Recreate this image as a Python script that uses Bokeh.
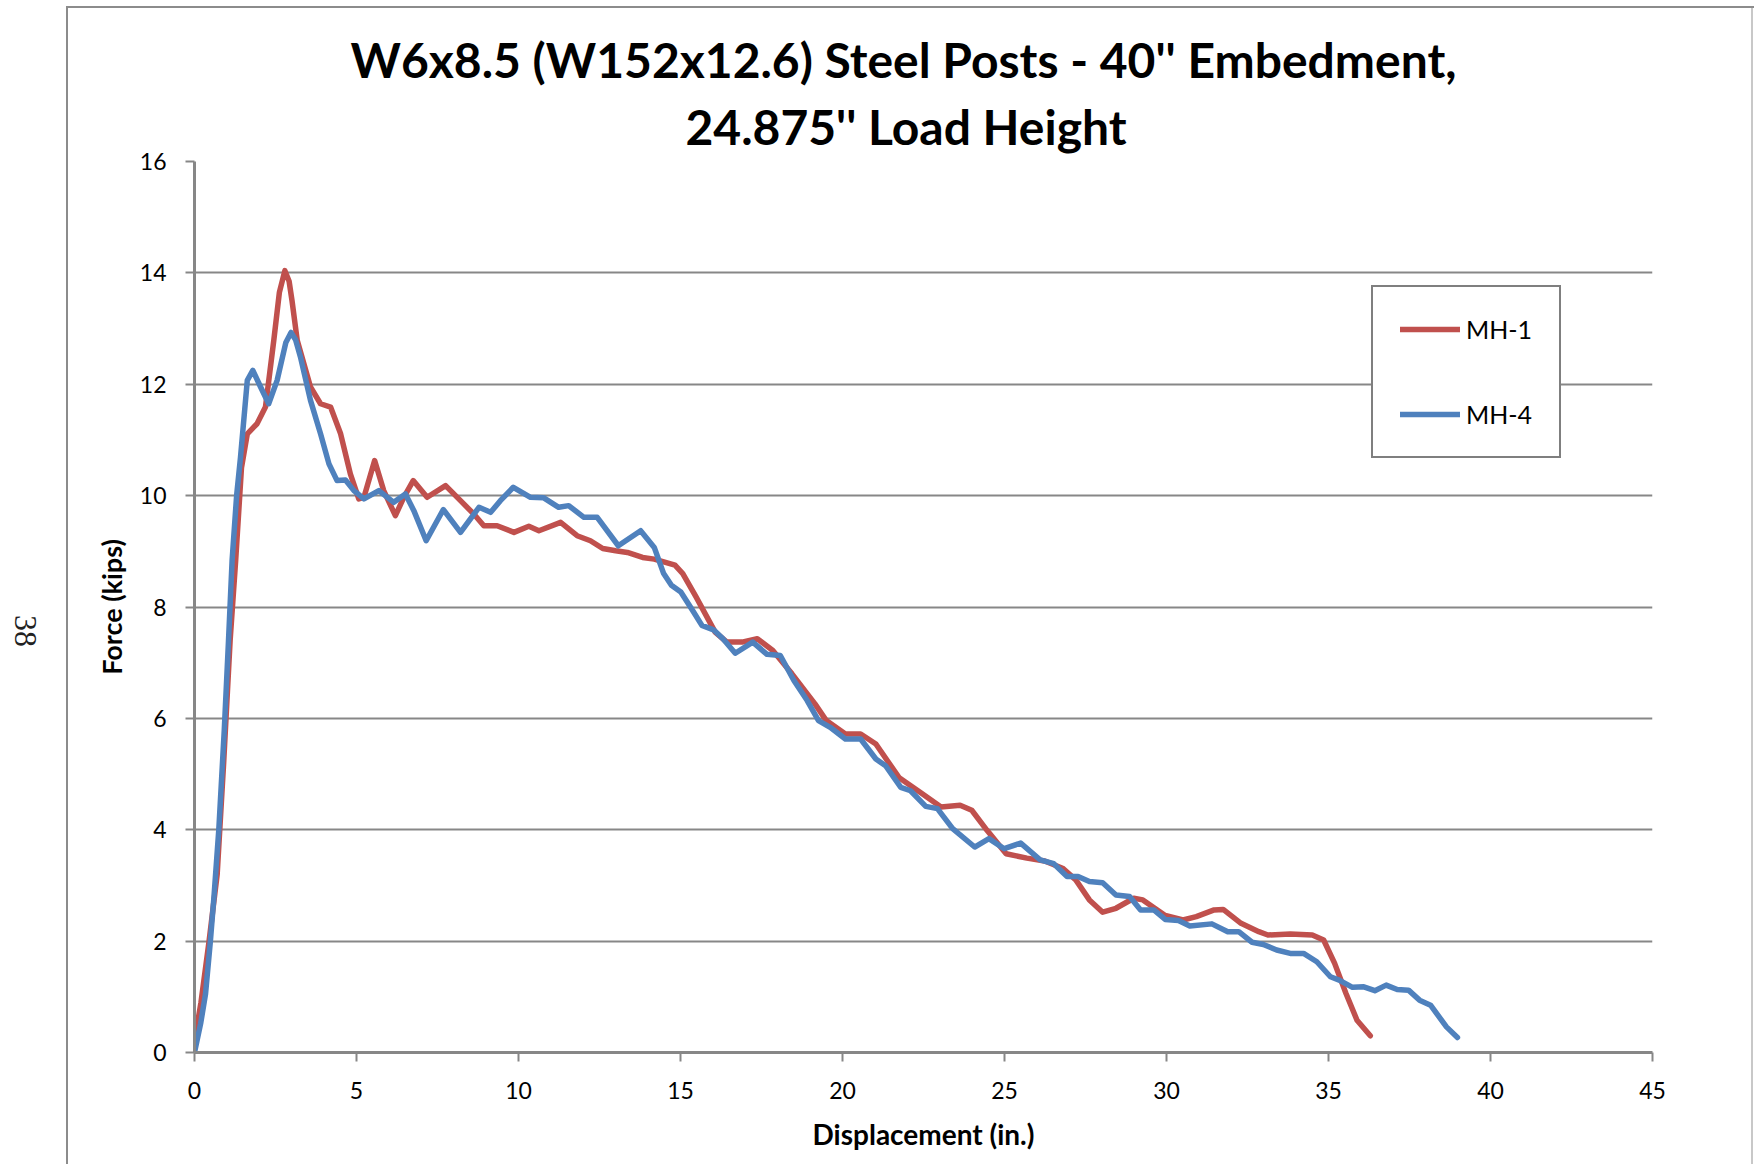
import math
from bokeh.plotting import figure
from bokeh.models import (Range1d, FixedTicker, Legend, LegendItem, Title, LinearAxis)
from bokeh.embed import file_html
from bokeh.resources import INLINE

# ---------------- data ----------------
title_line1 = "W6x8.5 (W152x12.6) Steel Posts - 40'' Embedment,"
title_line2 = "24.875'' Load Height"
x_label = "Displacement (in.)"
y_label = "Force (kips)"
page_number = "38"

x_ticks = [0, 5, 10, 15, 20, 25, 30, 35, 40, 45]
y_ticks = [0, 2, 4, 6, 8, 10, 12, 14, 16]

series_names = ["MH-1", "MH-4"]

mh1_x = [0, 0.2, 0.45, 0.7, 0.9, 1.1, 1.27, 1.45, 1.63, 1.93, 2.19, 2.45, 2.62, 2.79, 2.92, 3.01, 3.17,
         3.58, 3.89, 4.20, 4.51, 4.81, 5.07, 5.23, 5.56, 5.84, 6.20, 6.46, 6.75, 7.18, 7.75,
         8.21, 8.62, 8.93, 9.34, 9.86, 10.32, 10.63, 11.30, 11.81, 12.22, 12.6, 13.0, 13.36,
         13.83, 14.19, 14.83, 15.07, 15.48, 16.07, 16.43, 16.90, 17.37, 17.85, 18.44, 19.15,
         19.50, 20.09, 20.56, 21.03, 21.74, 22.45, 23.04, 23.63, 23.99, 24.46, 25.05, 25.69,
         26.24, 26.79, 27.20, 27.62, 28.03, 28.44, 28.99, 29.27, 29.96, 30.51, 30.92, 31.47,
         31.75, 32.30, 32.85, 33.13, 33.82, 34.50, 34.85, 35.19, 35.54, 35.88, 36.29]
mh1_y = [0.2, 0.9, 2.0, 3.2, 5.2, 7.4, 8.83, 10.5, 11.11, 11.29, 11.59, 12.8, 13.65, 14.04, 13.85, 13.5, 12.79,
         11.95, 11.65, 11.59, 11.11, 10.39, 9.94, 9.97, 10.63, 10.09, 9.64, 9.97, 10.27, 9.97, 10.18,
         9.91, 9.67, 9.46, 9.46, 9.34, 9.45, 9.37, 9.52, 9.28, 9.19, 9.05, 9.01, 8.98,
         8.89, 8.86, 8.75, 8.60, 8.18, 7.55, 7.37, 7.37, 7.43, 7.22, 6.80, 6.26,
         5.96, 5.72, 5.72, 5.54, 4.94, 4.65, 4.41, 4.44, 4.35, 3.99, 3.57, 3.49,
         3.44, 3.31, 3.10, 2.74, 2.52, 2.59, 2.77, 2.74, 2.46, 2.38, 2.44, 2.56,
         2.57, 2.32, 2.17, 2.11, 2.13, 2.11, 2.02, 1.60, 1.06, 0.58, 0.30]

mh4_x = [0, 0.19, 0.34, 0.49, 0.6, 0.75, 0.92, 1.05, 1.16, 1.3, 1.42, 1.63, 1.80, 2.04, 2.29,
         2.55, 2.82, 2.98, 3.12, 3.27, 3.58, 3.89, 4.15, 4.40, 4.66, 4.92, 5.23, 5.69, 6.15, 6.51, 6.77,
         7.15, 7.68, 8.21, 8.78, 9.14, 9.44, 9.84, 10.37, 10.78, 11.24, 11.55, 12.02, 12.43,
         13.08, 13.77, 14.19, 14.48, 14.72, 15.01, 15.37, 15.66, 16.02, 16.31, 16.69, 17.23,
         17.67, 18.08, 18.50, 18.91, 19.26, 19.62, 20.09, 20.56, 21.03, 21.33, 21.80, 22.10,
         22.57, 22.93, 23.40, 24.08, 24.52, 24.99, 25.50, 26.10, 26.52, 26.93, 27.27, 27.62,
         28.03, 28.44, 28.86, 29.20, 29.61, 29.96, 30.37, 30.72, 31.40, 31.89, 32.23, 32.64,
         32.99, 33.40, 33.82, 34.23, 34.64, 35.06, 35.33, 35.74, 36.09, 36.43, 36.78, 37.12,
         37.47, 37.81, 38.15, 38.64, 38.98]
mh4_y = [0, 0.52, 1.05, 2.0, 2.79, 4.0, 5.8, 7.4, 8.83, 10.0, 10.69, 12.07, 12.25, 11.95, 11.65,
         12.07, 12.75, 12.93, 12.8, 12.49, 11.71, 11.11, 10.57, 10.27, 10.28, 10.09, 9.94, 10.09, 9.88, 10.03, 9.73,
         9.19, 9.75, 9.34, 9.79, 9.70, 9.91, 10.15, 9.97, 9.96, 9.79, 9.82, 9.61, 9.61,
         9.10, 9.37, 9.07, 8.60, 8.39, 8.27, 7.94, 7.67, 7.59, 7.43, 7.17, 7.37,
         7.15, 7.13, 6.68, 6.32, 5.96, 5.84, 5.63, 5.63, 5.27, 5.15, 4.76, 4.70,
         4.42, 4.38, 4.02, 3.69, 3.84, 3.66, 3.76, 3.46, 3.39, 3.16, 3.16, 3.07,
         3.05, 2.83, 2.80, 2.56, 2.56, 2.39, 2.37, 2.27, 2.31, 2.17, 2.17, 1.98,
         1.94, 1.84, 1.78, 1.78, 1.63, 1.36, 1.30, 1.17, 1.18, 1.11, 1.21, 1.13,
         1.12, 0.94, 0.85, 0.46, 0.27]

# ---------------- styling ----------------
RED = "#C0504D"
BLUE = "#4F81BD"
GRAY = "#878787"
FONT = "Lato"

p = figure(width=1754, height=1164,
           x_range=Range1d(0, 45), y_range=Range1d(0, 16),
           output_backend="svg", toolbar_location=None,
           min_border_left=194, min_border_right=102,
           min_border_top=161, min_border_bottom=112)
p.outline_line_color = None
p.background_fill_color = "white"
p.border_fill_color = None
# outer frame of the embedded chart, drawn behind the transparent border area
p.styles = {
    "background-color": "white",
    "background-image": ("linear-gradient(#8c8c8c, #8c8c8c), linear-gradient(#8c8c8c, #8c8c8c), "
                         "linear-gradient(#c8c8c8, #c8c8c8)"),
    "background-size": "2px 1200px, 1800px 2px, 2px 1200px",
    "background-position": "66px 6px, 66px 6px, 1751px 6px",
    "background-repeat": "no-repeat",
}

p.xgrid.visible = False
p.ygrid.ticker = FixedTicker(ticks=y_ticks)
p.ygrid.grid_line_color = GRAY
p.ygrid.grid_line_width = 2

for ax in (p.xaxis[0], p.yaxis[0]):
    ax.axis_line_color = GRAY
    ax.axis_line_width = 3
    ax.major_tick_line_color = GRAY
    ax.major_tick_line_width = 2
    ax.major_tick_out = 9
    ax.major_tick_in = 0
    ax.minor_tick_line_color = None
    ax.major_label_text_font = FONT
    ax.major_label_text_font_size = "23px"
    ax.major_label_text_color = "black"
    ax.axis_label_text_font = FONT
    ax.axis_label_text_font_style = "bold"
    ax.axis_label_text_font_size = "27px"
    ax.axis_label_text_color = "black"

p.xaxis.ticker = FixedTicker(ticks=x_ticks)
p.yaxis.ticker = FixedTicker(ticks=y_ticks)
p.xaxis.axis_label = x_label
p.yaxis.axis_label = y_label
p.xaxis.axis_label_text_font_size = "28px"
p.xaxis.major_label_standoff = 20
p.yaxis.major_label_standoff = 19
p.xaxis.axis_label_standoff = 15
p.yaxis.axis_label_standoff = 9

# page number of the source document, as a lone rotated label on a bare extra axis
p.extra_y_ranges = {"page": Range1d(0, 1000)}
page_axis = LinearAxis(y_range_name="page", ticker=FixedTicker(ticks=[455]),
                       major_label_overrides={455: page_number},
                       major_label_orientation=-math.pi / 2,
                       axis_line_color=None, major_tick_line_color=None,
                       minor_tick_line_color=None, major_tick_out=0, major_tick_in=0,
                       major_label_standoff=66,
                       major_label_text_font="Liberation Serif",
                       major_label_text_font_size="32px",
                       major_label_text_color="#222222")
p.add_layout(page_axis, "left")

r1 = p.line(mh1_x, mh1_y, line_color=RED, line_width=5.5, line_cap="round", line_join="round")
r4 = p.line(mh4_x, mh4_y, line_color=BLUE, line_width=5.5, line_cap="round", line_join="round")

legend = Legend(items=[LegendItem(label=series_names[0], renderers=[r1]),
                       LegendItem(label=series_names[1], renderers=[r4])],
                location=(1177, 594),
                border_line_color="black", border_line_width=2,
                background_fill_color="white", background_fill_alpha=1,
                padding=27, spacing=55, glyph_width=60, glyph_height=30,
                label_height=30, label_width=66, label_standoff=6,
                label_text_font=FONT, label_text_font_size="25px",
                label_text_color="black", margin=0)
p.add_layout(legend)

# two-line chart title: the later-added Title sits further from the frame
p.add_layout(Title(text=title_line2, align="left", offset=491, text_font=FONT,
                   text_font_style="bold", text_font_size="48px",
                   text_color="black", standoff=14), "above")
p.add_layout(Title(text=title_line1, align="left", offset=156, text_font=FONT,
                   text_font_style="bold", text_font_size="48px",
                   text_color="black", standoff=2), "above")

open("out.html", "w").write(file_html(p, INLINE))
